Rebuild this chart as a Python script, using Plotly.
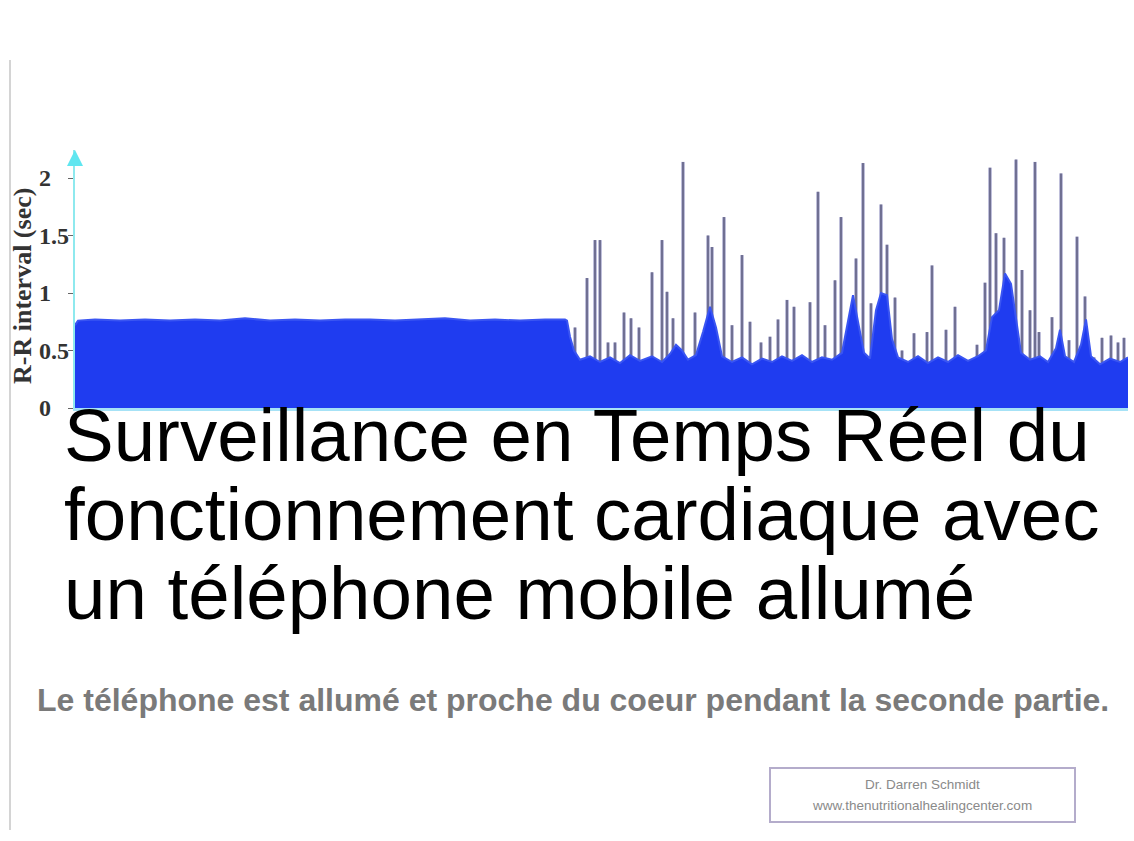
import plotly.graph_objects as go

W, H = 1134, 841
# plot area in page pixels
L, R, T, B = 75, 1128, 150, 408

# R-R intervals (sec) -- first part, phone away: top envelope of the dense trace
calm_t = [0, 3, 20, 45, 70, 95, 120, 145, 170, 195, 220, 245, 270, 295, 320,
          345, 370, 395, 420, 445, 470, 490, 492]
calm_rr = [0.72, 0.76, 0.77, 0.76, 0.77, 0.76, 0.77, 0.76, 0.78, 0.76, 0.77, 0.76,
           0.77, 0.77, 0.76, 0.77, 0.78, 0.76, 0.77, 0.76, 0.77, 0.77, 0.76]

# second part, phone on: envelope of the dense trace
active_t = [495, 499, 505, 515, 525, 535, 545, 555, 565, 577, 587, 595, 601, 607,
            613, 621, 628, 635, 641, 647, 657, 667, 677, 687, 697, 707, 717, 727,
            737, 747, 757, 767, 774, 778, 783, 789, 795, 801, 806, 812, 817, 823,
            833, 843, 853, 863, 873, 883, 893, 903, 911, 917, 924, 930, 936, 941,
            946, 955, 965, 973, 981, 985, 990, 999, 1006, 1011, 1016, 1025, 1035,
            1045, 1053]
active_rr = [0.62, 0.50, 0.42, 0.45, 0.40, 0.44, 0.39, 0.46, 0.41, 0.45, 0.40, 0.47,
             0.55, 0.50, 0.42, 0.46, 0.66, 0.88, 0.70, 0.45, 0.40, 0.44, 0.38, 0.43,
             0.40, 0.45, 0.41, 0.46, 0.40, 0.44, 0.42, 0.48, 0.80, 0.98, 0.75, 0.48,
             0.43, 0.85, 1.00, 0.98, 0.60, 0.44, 0.40, 0.45, 0.39, 0.44, 0.40, 0.46,
             0.41, 0.45, 0.50, 0.79, 0.85, 1.17, 1.08, 0.80, 0.48, 0.42, 0.45, 0.40,
             0.52, 0.68, 0.45, 0.40, 0.55, 0.77, 0.45, 0.38, 0.43, 0.40, 0.44]

# isolated long beats (spikes)
spike_t = [500, 512, 520, 525, 533, 540, 549, 556, 564, 577, 587, 592, 598, 608,
           620, 633, 637, 649, 657, 667, 675, 686, 695, 703, 712, 719, 735, 743,
           750, 760, 766, 781, 788, 796, 806, 812, 820, 827, 839, 852, 857, 871,
           880, 902, 910, 915, 921, 929, 941, 947, 955, 960, 964, 977, 986, 994,
           1002, 1010, 1019, 1027, 1036, 1043, 1049]
spike_rr = [0.70, 1.13, 1.46, 1.46, 0.57, 0.57, 0.83, 0.78, 0.70, 1.18, 1.46, 1.01,
            0.78, 2.14, 0.83, 1.50, 1.40, 1.66, 0.72, 1.33, 0.75, 0.57, 0.62, 0.77,
            0.94, 0.88, 0.92, 1.88, 0.72, 1.11, 1.66, 1.30, 2.13, 0.91, 1.77, 1.42,
            0.96, 0.50, 0.65, 0.66, 1.24, 0.68, 0.88, 0.55, 1.09, 2.09, 1.52, 1.48,
            2.16, 1.20, 0.85, 2.14, 0.66, 0.79, 2.04, 0.59, 1.49, 0.97, 0.44, 0.61,
            0.63, 0.57, 0.61]

y_ticks = [0, 0.5, 1, 1.5, 2]
y_ticktext = ["0", "0.5", "1", "1.5", "2"]
y_title = "R-R interval (sec)"

title_lines = ["Surveillance en Temps Réel du",
               "fonctionnement cardiaque avec",
               "un téléphone mobile allumé"]
subtitle = "Le téléphone est allumé et proche du coeur pendant la seconde partie."
credit_lines = ["Dr. Darren Schmidt", "www.thenutritionalhealingcenter.com"]


def px_x(px):
    return (px - L) / (R - L)


def px_y(py):
    return (B - py) / (B - T)


# spikes as vertical segments
sx, sy = [], []
for t, v in zip(spike_t, spike_rr):
    sx += [t, t, None]
    sy += [0, v, None]

fig = go.Figure()
fig.add_trace(go.Scatter(x=sx, y=sy, mode="lines",
                         line=dict(color="rgba(160,160,200,0.9)", width=3.5),
                         hoverinfo="skip", showlegend=False))
fig.add_trace(go.Scatter(x=sx, y=sy, mode="lines",
                         line=dict(color="#4a4a6c", width=1.2),
                         hoverinfo="skip", showlegend=False))
fig.add_trace(go.Scatter(x=calm_t + active_t, y=calm_rr + active_rr, mode="lines",
                         fill="tozeroy", fillcolor="#1f3cf0",
                         line=dict(color="#3a55f2", width=2),
                         hoverinfo="skip", showlegend=False))

fig.update_xaxes(range=[0, R - L], showticklabels=False, showgrid=False,
                 zeroline=False, showline=True, linecolor="#a6e2f6", linewidth=3)
fig.update_yaxes(range=[0, (B - T) / 115.0], tickvals=y_ticks,
                 showticklabels=False, showgrid=False, zeroline=False,
                 showline=True, linecolor="#8ee9ee", linewidth=2,
                 ticks="outside", ticklen=5, tickcolor="#666")

annotations = []
# tick labels, left aligned like the original
for v, s in zip(y_ticks, y_ticktext):
    annotations.append(dict(x=px_x(37), y=v, xref="paper", yref="y",
                            xanchor="left", yanchor="middle", text=s,
                            showarrow=False,
                            font=dict(family="Liberation Serif", size=24,
                                      color="#333", weight="bold")))
# y axis title
annotations.append(dict(x=px_x(22), y=px_y(286), xref="paper", yref="paper",
                        xanchor="center", yanchor="middle",
                        text=y_title, textangle=-90, showarrow=False,
                        font=dict(family="Liberation Serif", size=26, color="#333",
                                  weight="bold")))
# arrow on top of y axis
annotations.append(dict(x=0, y=1, xref="paper", yref="paper", ax=0, ay=14,
                        text="", showarrow=True, arrowhead=2, arrowsize=1.6,
                        arrowwidth=2, arrowcolor="#5fe6f0"))
# big overlay title
for i, line in enumerate(title_lines):
    annotations.append(dict(x=px_x(62), y=px_y(435 + 79 * i), xref="paper",
                            yref="paper", xanchor="left", yanchor="middle",
                            text=line, showarrow=False,
                            font=dict(family="Liberation Sans", size=74.5,
                                      color="#000")))
annotations.append(dict(x=px_x(573), y=px_y(700), xref="paper", yref="paper",
                        xanchor="center", yanchor="middle",
                        text=subtitle, showarrow=False,
                        font=dict(family="Liberation Sans", size=32,
                                  color="#7a7a7a", weight="bold")))
for i, line in enumerate(credit_lines):
    annotations.append(dict(x=px_x(922), y=px_y(784 + 21 * i), xref="paper",
                            yref="paper", xanchor="center", yanchor="middle",
                            text=line, showarrow=False,
                            font=dict(family="Liberation Sans", size=13.5,
                                      color="#8a8a8a")))

shapes = [
    dict(type="rect", xref="paper", yref="paper", x0=px_x(770), x1=px_x(1075),
         y0=px_y(768), y1=px_y(822), line=dict(color="#b4accb", width=2)),
    dict(type="line", xref="paper", yref="paper", x0=px_x(10), x1=px_x(10),
         y0=px_y(60), y1=px_y(830), line=dict(color="#d4d4d4", width=2)),
]

fig.update_layout(width=W, height=H,
                  margin=dict(l=L, r=W - R, t=T, b=H - B, pad=0),
                  paper_bgcolor="white", plot_bgcolor="white",
                  annotations=annotations, shapes=shapes)

fig.write_html("out.html", config={"displayModeBar": False},
               post_script="document.body.style.margin='0';")
